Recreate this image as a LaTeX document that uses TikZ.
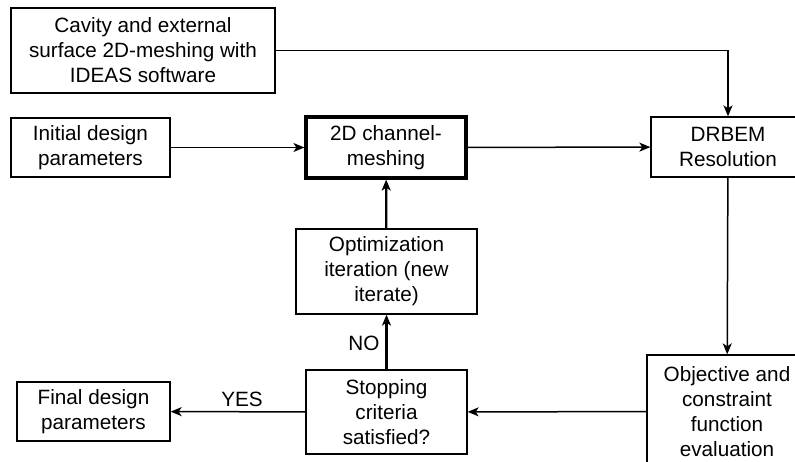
\documentclass[tikz,border=0pt]{standalone}
\usepackage{fontspec}
\setmainfont{Liberation Sans}
\usetikzlibrary{arrows.meta}

\tikzset{
  blockbox/.style={draw,line width=1.3pt,align=center,inner sep=0pt,
    font=\fontsize{20.7}{25}\selectfont},
  mainbox/.style={blockbox,line width=3.2pt},
  flow/.style={line width=1.5pt,-{Stealth[length=11pt,width=9pt,inset=3pt]}},
  loopflow/.style={flow,line width=2.3pt},
  tag/.style={font=\fontsize{20.7}{25}\selectfont,inner sep=0pt}
}

\begin{document}
\begin{tikzpicture}[x=1pt,y=-1pt]
                \useasboundingbox(0,0)rectangle(795,462);
                \node[blockbox,minimum width=264pt,minimum height=85pt](cavity)at(143,50.5){Cavity and external\\surface 2D-meshing with\\IDEAS software};
                \node[blockbox,minimum width=159pt,minimum height=59pt](init)at(90.5,147.5){Initial design\\parameters};
                \node[mainbox,minimum width=160pt,minimum height=61pt](chan)at(386,147.5){2D channel-\\meshing};
                \node[blockbox,minimum width=154pt,minimum height=60pt](drbem)at(728,147){DRBEM\\Resolution};
                \node[blockbox,minimum width=181pt,minimum height=85pt](optim)at(386.5,271.5){Optimization\\iteration (new\\iterate)};
                \node[blockbox,minimum width=161pt,minimum height=84pt](stop)at(386.5,412){Stopping\\criteria\\satisfied?};
                \node[blockbox,minimum width=153pt,minimum height=59pt](final)at(93.5,411.5){Final design\\parameters};
                \node[blockbox,minimum width=160pt,minimum height=113pt](obj)at(727,411.5){Objective and\\constraint\\function\\evaluation};
                \draw[flow](cavity.east)-|(drbem.north);
                \draw[flow](init)--(chan);
                \draw[flow](chan)--(drbem);
                \draw[flow](drbem)--(obj);
                \draw[flow](obj)--(stop);
                \draw[loopflow](stop)--(optim);
                \draw[loopflow](optim)--(chan);
                \draw[flow](stop)--(final);
                \node[tag](yes)at(242,399.5){YES};
                \node[tag](no)at(364,343.5){NO};
            \end{tikzpicture}
\end{document}
